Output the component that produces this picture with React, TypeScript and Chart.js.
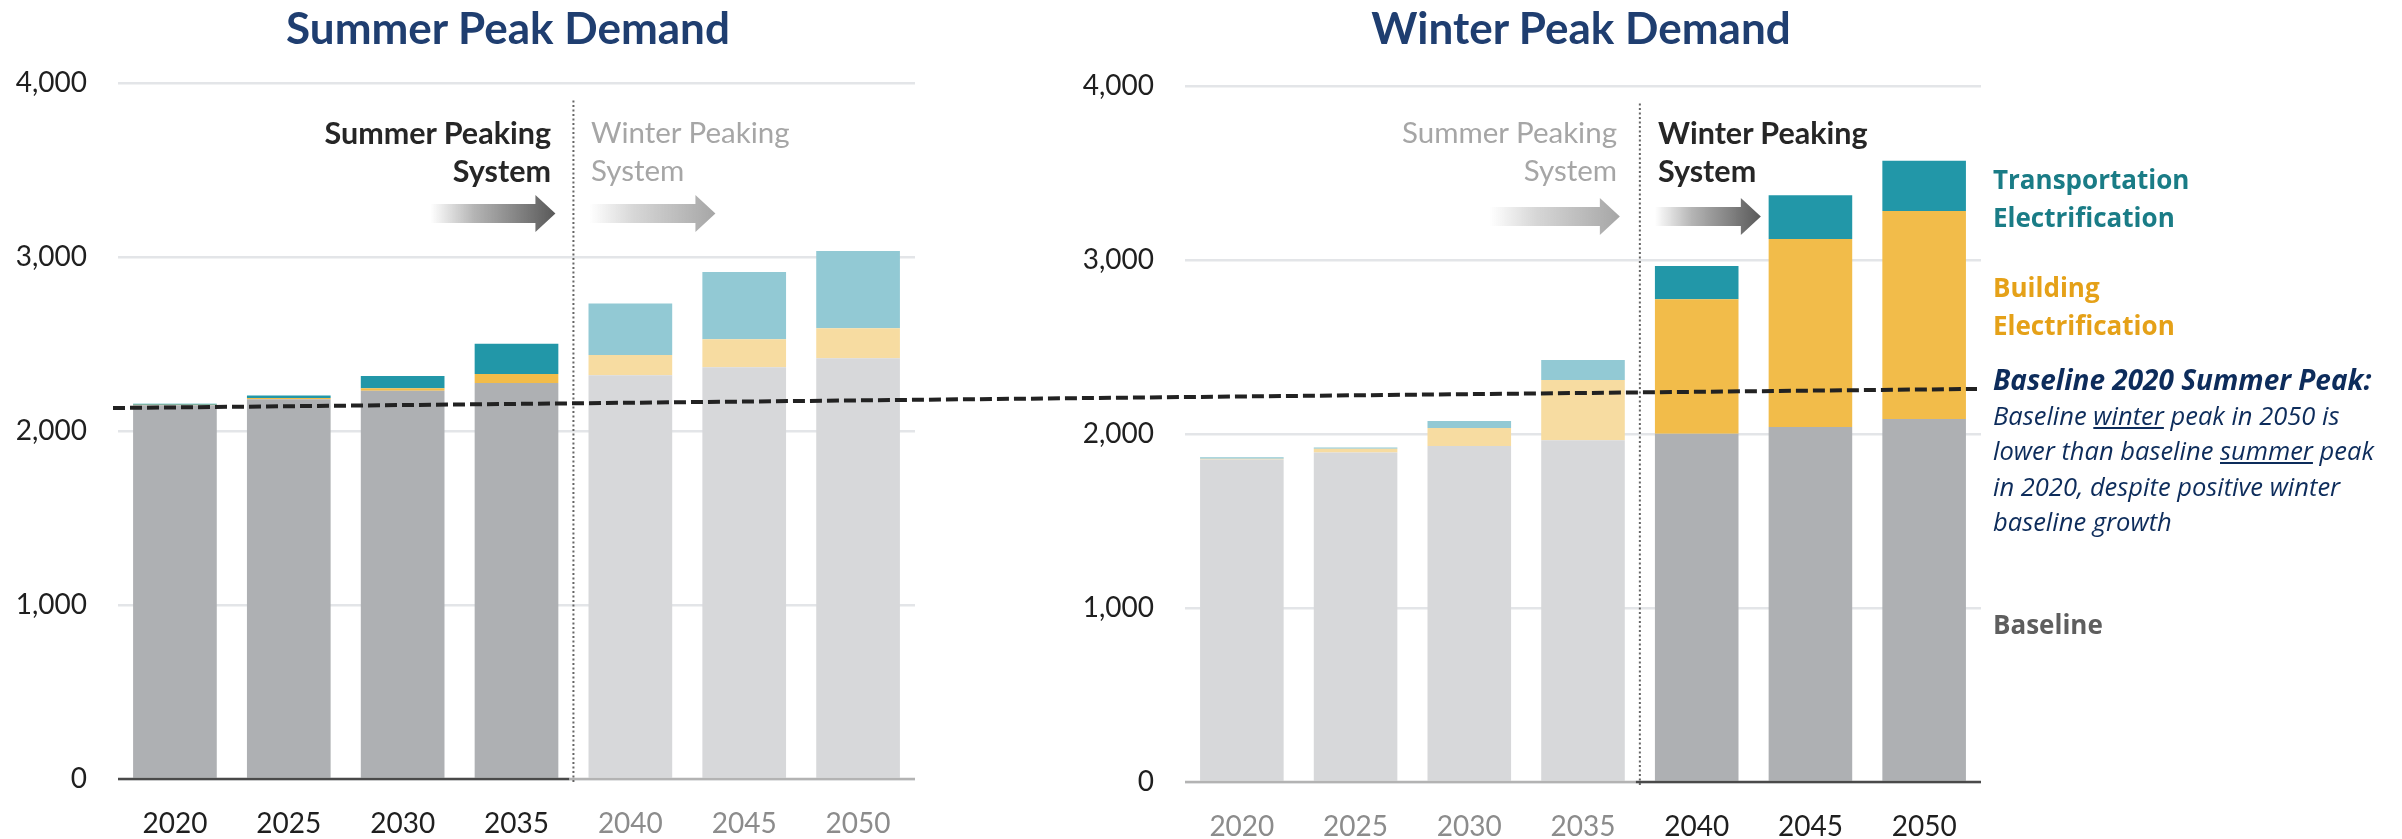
import React, { useEffect, useRef } from 'react';
import { Chart, registerables } from 'chart.js';

Chart.register(...registerables);

// ---------------- data ----------------
const YEARS = ['2020', '2025', '2030', '2035', '2040', '2045', '2050'];

const SUMMER_BASELINE = [2148, 2182, 2231, 2276, 2320, 2366, 2418];
const SUMMER_BUILDING = [3, 7, 14, 52, 117, 161, 172];
const SUMMER_TRANSPORT = [5, 15, 71, 174, 296, 387, 444];

const WINTER_BASELINE = [1853, 1893, 1931, 1964, 2002, 2040, 2086];
const WINTER_BUILDING = [5, 22, 103, 346, 772, 1081, 1196];
const WINTER_TRANSPORT = [8, 8, 41, 115, 192, 251, 289];

const Y_TICKS = [0, 1000, 2000, 3000, 4000];

// reference line "Baseline 2020 Summer Peak" (as drawn: start value, end value)
const PEAK_LINE = [2132, 2259];

const DIVIDER_INDEX = 4; // between 2035 and 2040
const DIVIDER_TOP_VALUE = 3900;
const ARROW_VALUE = 3250;

// ---------------- styles ----------------
const COL = {
  baseDark: '#aeb0b3',
  baseLight: '#d7d8da',
  bldDark: '#f2bc4a',
  bldLight: '#f7dca1',
  trnDark: '#2297a8',
  trnLight: '#92c9d4',
  grid: '#e3e5e8',
  tickDark: '#1f1f1f',
  tickLight: '#8c8c8c',
  axisDark: '#4a4a4a',
  axisLight: '#b3b3b3',
  arrowDark: '#595959',
  arrowLight: '#a6a6a6',
};

const TICK_FONT = { family: 'Lato', size: 28 };

function rgba(hex: string, a: number) {
  const n = parseInt(hex.slice(1), 16);
  return `rgba(${(n >> 16) & 255},${(n >> 8) & 255},${n & 255},${a})`;
}

function drawArrow(ctx: CanvasRenderingContext2D, x0: number, x1: number, y: number, color: string) {
  const head = 20, body = 19, headH = 37;
  const g = ctx.createLinearGradient(x0, 0, x1, 0);
  g.addColorStop(0, rgba(color, 0));
  g.addColorStop(0.35, rgba(color, 0.45));
  g.addColorStop(1, color);
  ctx.save();
  ctx.fillStyle = g;
  ctx.beginPath();
  ctx.moveTo(x0, y - body / 2);
  ctx.lineTo(x1 - head, y - body / 2);
  ctx.lineTo(x1 - head, y - headH / 2);
  ctx.lineTo(x1, y);
  ctx.lineTo(x1 - head, y + headH / 2);
  ctx.lineTo(x1 - head, y + body / 2);
  ctx.lineTo(x0, y + body / 2);
  ctx.closePath();
  ctx.fill();
  ctx.restore();
}

function panelPlugin(summerPanel: boolean) {
  return {
    id: 'panelDecor',
    afterDatasetsDraw(chart: any) {
      const { ctx, chartArea, scales } = chart;
      const x = scales.x, y = scales.y;
      const divX = (x.getPixelForValue(DIVIDER_INDEX - 1) + x.getPixelForValue(DIVIDER_INDEX)) / 2;
      const bottom = chartArea.bottom;
      ctx.save();
      // axis line (two tones)
      ctx.lineWidth = 2.5;
      ctx.strokeStyle = summerPanel ? COL.axisDark : COL.axisLight;
      ctx.beginPath();
      ctx.moveTo(chartArea.left, bottom);
      ctx.lineTo(divX - 4, bottom);
      ctx.stroke();
      ctx.strokeStyle = summerPanel ? COL.axisLight : COL.axisDark;
      ctx.beginPath();
      ctx.moveTo(divX - 4, bottom);
      ctx.lineTo(chartArea.right, bottom);
      ctx.stroke();
      // dotted divider
      ctx.strokeStyle = '#666666';
      ctx.lineWidth = 2;
      ctx.setLineDash([2, 2.5]);
      ctx.beginPath();
      ctx.moveTo(divX, y.getPixelForValue(DIVIDER_TOP_VALUE));
      ctx.lineTo(divX, bottom + 4);
      ctx.stroke();
      ctx.setLineDash([]);
      ctx.restore();
      // arrows
      const ay = y.getPixelForValue(ARROW_VALUE);
      if (summerPanel) {
        drawArrow(ctx, divX - 143, divX - 18, ay, COL.arrowDark);
        drawArrow(ctx, divX + 16, divX + 142, ay, COL.arrowLight);
      } else {
        drawArrow(ctx, divX - 150, divX - 20, ay, COL.arrowLight);
        drawArrow(ctx, divX + 15, divX + 121, ay, COL.arrowDark);
      }
    },
  };
}

function makeConfig(
  summerPanel: boolean,
  base: number[], bld: number[], trn: number[],
  pad: { left: number; right: number; top: number },
  yWidth: number,
  extraPlugins: any[] = []
) {
  const isDark = (i: number) => (summerPanel ? i < DIVIDER_INDEX : i >= DIVIDER_INDEX);
  const colors = (dark: string, light: string) => YEARS.map((_, i) => (isDark(i) ? dark : light));
  return {
    type: 'bar' as const,
    data: {
      labels: YEARS,
      datasets: [
        { label: 'Baseline', data: base, backgroundColor: colors(COL.baseDark, COL.baseLight), stack: 's' },
        { label: 'Building Electrification', data: bld, backgroundColor: colors(COL.bldDark, COL.bldLight), stack: 's' },
        { label: 'Transportation Electrification', data: trn, backgroundColor: colors(COL.trnDark, COL.trnLight), stack: 's' },
      ],
    },
    options: {
      animation: false,
      responsive: false,
      maintainAspectRatio: false,
      events: [],
      layout: { padding: { left: pad.left, right: pad.right, top: pad.top, bottom: 0 } },
      datasets: { bar: { categoryPercentage: 1, barPercentage: 0.735, borderWidth: 0 } },
      plugins: { legend: { display: false }, tooltip: { enabled: false }, title: { display: false } },
      scales: {
        x: {
          stacked: true,
          grid: { display: false },
          border: { display: false },
          ticks: {
            font: TICK_FONT,
            padding: 20,
            maxRotation: 0,
            color: (c: any) => (isDark(c.index) ? COL.tickDark : COL.tickLight),
          },
          afterFit: (s: any) => {
            s.height = 60;
            s.paddingLeft = 0;
            s.paddingRight = 0;
          },
        },
        y: {
          stacked: true,
          min: 0,
          max: 4000,
          grid: { color: COL.grid, lineWidth: 2.5, drawTicks: false },
          border: { display: false },
          afterBuildTicks: (s: any) => {
            s.ticks = Y_TICKS.map((v) => ({ value: v }));
          },
          ticks: {
            font: TICK_FONT,
            color: COL.tickDark,
            padding: 31,
            callback: (v: any) => Number(v).toLocaleString('en-US'),
          },
          afterFit: (s: any) => {
            s.width = yWidth;
            s.paddingTop = 0;
            s.paddingBottom = 0;
          },
        },
      },
    },
    plugins: [panelPlugin(summerPanel), ...extraPlugins],
  };
}

const B_TOP = 3; // winter panel canvas offset

export default function App() {
  const refA = useRef<HTMLCanvasElement | null>(null);
  const refB = useRef<HTMLCanvasElement | null>(null);

  useEffect(() => {
    if (!refA.current || !refB.current) return;
    const a = new Chart(
      refA.current,
      makeConfig(true, SUMMER_BASELINE, SUMMER_BUILDING, SUMMER_TRANSPORT, { left: 0, right: 185, top: 83 }, 118) as any
    );
    const peakLine = {
      id: 'peakLine',
      afterDraw(chart: any) {
        const { ctx, chartArea, scales } = chart;
        const x0 = a.chartArea.left - 5;
        const y0 = a.scales.y.getPixelForValue(PEAK_LINE[0]) - B_TOP;
        const x1 = chartArea.right - 4;
        const y1 = scales.y.getPixelForValue(PEAK_LINE[1]);
        ctx.save();
        ctx.strokeStyle = '#222222';
        ctx.lineWidth = 4;
        ctx.setLineDash([12, 5]);
        ctx.beginPath();
        ctx.moveTo(x0, y0);
        ctx.lineTo(x1, y1);
        ctx.stroke();
        ctx.restore();
      },
    };
    const b = new Chart(
      refB.current,
      makeConfig(false, WINTER_BASELINE, WINTER_BUILDING, WINTER_TRANSPORT, { left: 1045, right: 421, top: 83 }, 140, [peakLine]) as any
    );
    return () => {
      a.destroy();
      b.destroy();
    };
  }, []);

  const abs = (s: React.CSSProperties): React.CSSProperties => ({ position: 'absolute', whiteSpace: 'nowrap', margin: 0, ...s });
  const peakFont = 'Lato, sans-serif';
  const legFont = '"Open Sans", sans-serif';

  return (
    <div style={{ position: 'absolute', left: 0, top: 0, width: 2402, height: 839, overflow: 'hidden', background: '#ffffff' }}>
      <canvas ref={refA} width={1100} height={839} style={{ position: 'absolute', left: 0, top: 0, width: 1100, height: 839 }} />
      <canvas ref={refB} width={2402} height={839} style={{ position: 'absolute', left: 0, top: B_TOP, width: 2402, height: 839 }} />

      {/* titles */}
      <div style={abs({ left: 508, top: 2, transform: 'translateX(-50%)', font: `700 44px/50px ${peakFont}`, color: '#1f3e70' })}>Summer Peak Demand</div>
      <div style={abs({ left: 1581, top: 2, transform: 'translateX(-50%)', font: `700 44px/50px ${peakFont}`, color: '#1f3e70' })}>Winter Peak Demand</div>

      {/* peaking-system labels, summer panel */}
      <div style={abs({ right: 2402 - 551, top: 113, textAlign: 'right', font: `700 30.5px/38px ${peakFont}`, color: '#262626' })}>
        Summer Peaking<br />System
      </div>
      <div style={abs({ left: 591, top: 113, textAlign: 'left', font: `400 29.5px/38px ${peakFont}`, color: '#a6a6a6' })}>
        Winter Peaking<br />System
      </div>

      {/* peaking-system labels, winter panel */}
      <div style={abs({ right: 2402 - 1617, top: 113, textAlign: 'right', font: `400 29.5px/38px ${peakFont}`, color: '#a6a6a6' })}>
        Summer Peaking<br />System
      </div>
      <div style={abs({ left: 1658, top: 113, textAlign: 'left', font: `700 30.5px/38px ${peakFont}`, color: '#262626' })}>
        Winter Peaking<br />System
      </div>

      {/* series labels */}
      <div style={abs({ left: 1993, top: 160, font: `700 26px/38px ${legFont}`, color: '#1a7c86' })}>
        Transportation<br />Electrification
      </div>
      <div style={abs({ left: 1993, top: 268, font: `700 26px/38px ${legFont}`, color: '#e5a118' })}>
        Building<br />Electrification
      </div>
      <div style={abs({ left: 1993, top: 360, font: `italic 700 28px/38px ${legFont}`, color: '#0d2c5b' })}>
        Baseline 2020 Summer Peak:
      </div>
      <div style={abs({ left: 1993, top: 398, font: `italic 400 25.5px/35.3px ${legFont}`, color: '#0d2c5b' })}>
        Baseline <u>winter</u> peak in 2050 is<br />
        lower than baseline <u>summer</u> peak<br />
        in 2020, despite positive winter<br />
        baseline growth
      </div>
      <div style={abs({ left: 1993, top: 606, font: `700 26px/36px ${legFont}`, color: '#5e5e5e' })}>Baseline</div>
    </div>
  );
}
